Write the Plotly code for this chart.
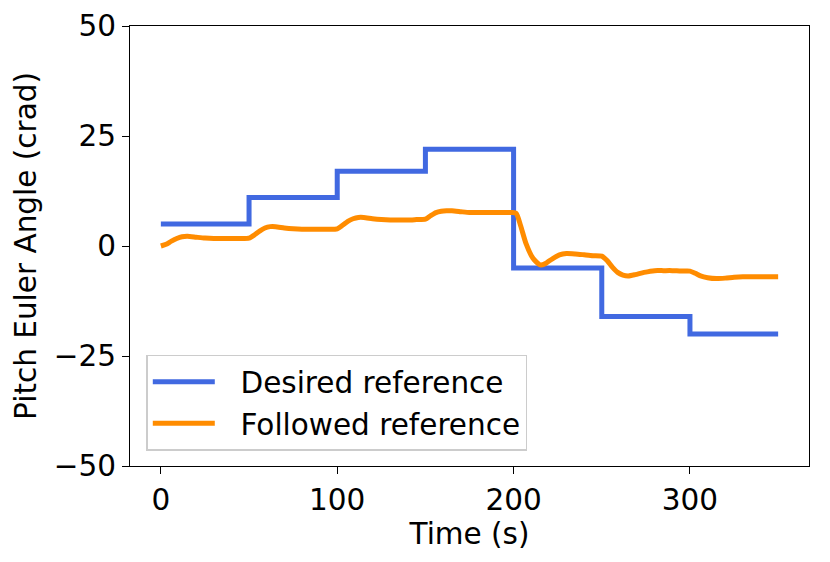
import plotly.graph_objects as go

# Desired reference: piecewise constant set-points (s, crad)
step_time = [0, 50, 100, 150, 200, 250, 300, 350]
step_value = [5, 11, 17, 22, -5, -16, -20, -20]

# Followed reference: values
follow_time = [0, 3, 6, 9, 12, 15, 20, 25, 30, 35, 40, 45, 50, 53, 56, 59, 62, 65,
               70, 75, 80, 85, 90, 95, 100, 103, 106, 109, 112, 115, 120, 125, 130,
               135, 140, 145, 150, 153, 156, 159, 162, 165, 170, 175, 180, 185, 190,
               195, 199, 201.5, 204, 207, 211, 215, 218, 222, 226, 230, 235, 240, 245,
               250, 253, 256, 259, 262, 265, 269, 274, 280, 285, 290, 295, 300, 303,
               306, 310, 315, 320, 325, 330, 335, 340, 345, 350]
follow_value = [0.0, 0.4, 1.1, 1.7, 2.1, 2.2, 2.0, 1.8, 1.7, 1.7, 1.7, 1.7, 1.8, 2.5,
                3.4, 4.1, 4.4, 4.4, 4.1, 3.9, 3.8, 3.8, 3.8, 3.8, 3.9, 4.7, 5.6, 6.2,
                6.5, 6.5, 6.2, 6.0, 5.9, 5.9, 5.9, 6.0, 6.1, 6.9, 7.6, 7.9, 8.0, 8.0,
                7.8, 7.6, 7.6, 7.6, 7.6, 7.6, 7.6, 7.4, 4.6, 0.6, -2.8, -4.3, -4.0,
                -2.9, -2.0, -1.7, -1.8, -2.0, -2.2, -2.3, -3.3, -4.8, -6.0, -6.6, -6.8,
                -6.5, -6.0, -5.6, -5.6, -5.6, -5.7, -5.7, -6.2, -6.8, -7.2, -7.4, -7.3,
                -7.1, -7.0, -7.0, -7.0, -7.0, -7.0]

x_ticks = [0, 100, 200, 300]
y_ticks = [-50, -25, 0, 25, 50]
y_tick_text = ["\u221250", "\u221225", "0", "25", "50"]

FONT = "DejaVu Sans"
GAP = "\u2002\u2009"  # a little extra room between legend line and label

fig = go.Figure()

fig.add_trace(go.Scatter(
    x=step_time,
    y=step_value,
    mode='lines',
    line=dict(color='#4169E1', width=5, shape='hv'),
    name=GAP + 'Desired reference'
))

fig.add_trace(go.Scatter(
    x=follow_time,
    y=follow_value,
    mode='lines',
    line=dict(color='#FF8C00', width=5, shape='spline', smoothing=0.6),
    name=GAP + 'Followed reference'
))

axis_style = dict(
    ticks='outside', ticklen=7, tickwidth=1.3, tickcolor='black',
    showline=True, linecolor='black', linewidth=1.3, mirror=True,
    showgrid=False, zeroline=False, automargin=False,
    tickfont=dict(family=FONT, size=29.5, color='black')
)

# page body adds an 8px offset, so the figure is 8px smaller than the window
fig.update_layout(
    width=822,
    height=554,
    margin=dict(l=122, r=21, t=18, b=96),
    plot_bgcolor='white',
    paper_bgcolor='white',
    font=dict(family=FONT, size=29.5, color='black'),
    showlegend=True,
    legend=dict(
        x=0.024, y=0.035,
        xanchor='left', yanchor='bottom',
        bgcolor='rgba(255,255,255,0.8)',
        bordercolor='#CCCCCC',
        borderwidth=1.5,
        font=dict(family=FONT, size=29.5, color='black'),
        itemwidth=62,
        tracegroupgap=0
    ),
    xaxis=dict(
        range=[-17.5, 367.5],
        tickvals=x_ticks,
        title=dict(text='Time (s)', standoff=2,
                   font=dict(family=FONT, size=29.5, color='black')),
        **axis_style
    ),
    yaxis=dict(
        range=[-50, 50],
        tickvals=y_ticks,
        ticktext=y_tick_text,
        title=dict(text='Pitch Euler Angle (crad)', standoff=8,
                   font=dict(family=FONT, size=29.5, color='black')),
        **axis_style
    )
)

fig.write_html("out.html")
